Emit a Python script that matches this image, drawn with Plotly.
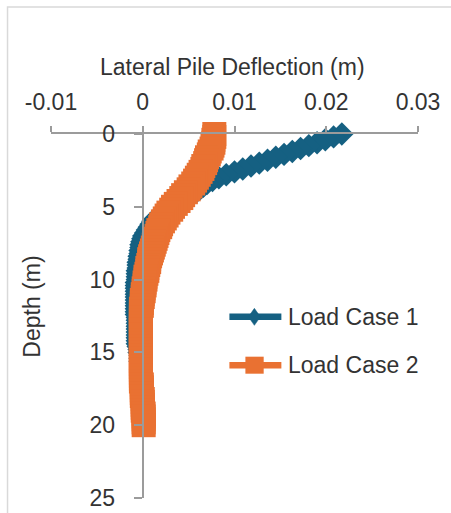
import plotly.graph_objects as go

# Depth below pile head (m)
depth = [
    0.0, 0.2, 0.4, 0.6, 0.8, 1.0, 1.2, 1.4, 1.6, 1.8,
    2.0, 2.2, 2.4, 2.6, 2.8, 3.0, 3.2, 3.4, 3.6, 3.8,
    4.0, 4.2, 4.4, 4.6, 4.8, 5.0, 5.2, 5.4, 5.6, 5.8,
    6.0, 6.2, 6.4, 6.6, 6.8, 7.0, 7.2, 7.4, 7.6, 7.8,
    8.0, 8.2, 8.4, 8.6, 8.8, 9.0, 9.2, 9.4, 9.6, 9.8,
    10.0, 10.2, 10.4, 10.6, 10.8, 11.0, 11.2, 11.4, 11.6, 11.8,
    12.0, 12.2, 12.4, 12.6, 12.8, 13.0, 13.2, 13.4, 13.6, 13.8,
    14.0, 14.2, 14.4, 14.6, 14.8, 15.0, 15.2, 15.4, 15.6, 15.8,
    16.0, 16.2, 16.4, 16.6, 16.8, 17.0, 17.2, 17.4, 17.6, 17.8,
    18.0, 18.2, 18.4, 18.6, 18.8, 19.0, 19.2, 19.4, 19.6, 19.8,
    20.0,
]

# Lateral deflection (m), load case 1
defl_lc1 = [
    0.0217, 0.0208, 0.0199, 0.0190, 0.0181, 0.0172, 0.0163, 0.0154, 0.0145, 0.0136,
    0.0127, 0.0118, 0.0109, 0.0100, 0.0091, 0.0083, 0.0076, 0.0070, 0.0066, 0.0062,
    0.0058, 0.0054, 0.0049, 0.0043, 0.0037, 0.0032, 0.0027, 0.0022, 0.0018, 0.0014,
    0.0011, 0.0009, 0.0007, 0.0005, 0.0003, 0.0001, 0.0000, -0.0001, -0.0002, -0.0002,
    -0.0003, -0.0003, -0.0004, -0.0004, -0.0005, -0.0005, -0.0005, -0.0006, -0.0006, -0.0006,
    -0.0006, -0.0007, -0.0007, -0.0007, -0.0007, -0.0007, -0.0007, -0.0007, -0.0007, -0.0007,
    -0.0007, -0.0007, -0.0007, -0.0006, -0.0006, -0.0006, -0.0006, -0.0006, -0.0006, -0.0006,
    -0.0006, -0.0006, -0.0006, -0.0005, -0.0004, -0.0004, -0.0003, -0.0003, -0.0003, -0.0002,
    -0.0002, -0.0002, -0.0002, -0.0002, -0.0002, -0.0002, -0.0001, -0.0001, -0.0001, -0.0001,
    -0.0001, 0.0000, 0.0000, 0.0000, 0.0000, 0.0000, 0.0001, 0.0001, 0.0001, 0.0001,
    0.0001,
]

# Lateral deflection (m), load case 2
defl_lc2 = [
    0.0078, 0.0078, 0.0077, 0.0077, 0.0076, 0.0075, 0.0073, 0.0072, 0.0070, 0.0069,
    0.0068, 0.0066, 0.0065, 0.0063, 0.0061, 0.0059, 0.0057, 0.0055, 0.0052, 0.0050,
    0.0047, 0.0044, 0.0042, 0.0039, 0.0036, 0.0033, 0.0031, 0.0028, 0.0026, 0.0024,
    0.0022, 0.0020, 0.0019, 0.0017, 0.0016, 0.0015, 0.0014, 0.0013, 0.0012, 0.0011,
    0.0010, 0.0009, 0.0008, 0.0007, 0.0007, 0.0006, 0.0005, 0.0005, 0.0004, 0.0003,
    0.0003, 0.0002, 0.0002, 0.0001, 0.0001, 0.0000, 0.0000, -0.0001, -0.0001, -0.0001,
    -0.0002, -0.0002, -0.0002, -0.0002, -0.0002, -0.0002, -0.0002, -0.0002, -0.0002, -0.0002,
    -0.0002, -0.0002, -0.0002, -0.0002, -0.0002, -0.0002, -0.0002, -0.0002, -0.0002, -0.0002,
    -0.0002, -0.0002, -0.0002, -0.0002, -0.0002, -0.0002, -0.0001, -0.0001, -0.0001, -0.0001,
    -0.0001, 0.0000, 0.0000, 0.0000, 0.0000, 0.0000, 0.0001, 0.0001, 0.0001, 0.0001,
    0.0001,
]

series_names = ["Load Case 1", "Load Case 2"]
x_ticks = [-0.01, 0, 0.01, 0.02, 0.03]
x_tick_text = ["-0.01", "0", "0.01", "0.02", "0.03"]
y_ticks = [0, 5, 10, 15, 20, 25]

BLUE = "#156082"
ORANGE = "#E97132"
AXIS = "#9b9b9b"
TEXT = "#333333"
FONT = "Liberation Sans, Arial, sans-serif"

W, H = 451, 513
L, R, T, B = 50.5, 33.3, 134, 15.3
PW, PH = W - L - R, H - T - B


def px(x):
    return (x - L) / PW


def py(y):
    return (H - B - y) / PH


fig = go.Figure()
fig.add_trace(go.Scatter(
    x=defl_lc1, y=depth, name=series_names[0], mode="lines+markers",
    line=dict(color=BLUE, width=5),
    marker=dict(symbol="diamond", size=18, color=BLUE, line=dict(width=0)),
    showlegend=False, cliponaxis=False,
))
fig.add_trace(go.Scatter(
    x=defl_lc2, y=depth, name=series_names[1], mode="lines+markers",
    line=dict(color=ORANGE, width=5),
    marker=dict(symbol="square", size=24, color=ORANGE, line=dict(width=0)),
    showlegend=False, cliponaxis=False,
))

shapes = [
    # chart frame
    dict(type="rect", xref="paper", yref="paper",
         x0=px(7), x1=px(470), y0=py(530), y1=py(7),
         line=dict(color="#d9d9d9", width=1.5), fillcolor="rgba(0,0,0,0)", layer="below"),
]
annotations = []

# legend
legend_rows = [(316.7, BLUE, "diamond"), (365.0, ORANGE, "square")]
for (yc, col, sym), name in zip(legend_rows, series_names):
    shapes.append(dict(type="line", xref="paper", yref="paper",
                       x0=px(229), x1=px(281), y0=py(yc), y1=py(yc),
                       line=dict(color=col, width=6.5)))
    if sym == "diamond":
        path = "M {a},{b} L {c},{d} L {e},{b} L {c},{f} Z".format(
            a=px(248), b=py(yc), c=px(254), d=py(yc - 8.5), e=px(260), f=py(yc + 8.5))
        shapes.append(dict(type="path", xref="paper", yref="paper", path=path,
                           fillcolor=col, line=dict(color=col, width=0.5)))
    else:
        shapes.append(dict(type="rect", xref="paper", yref="paper",
                           x0=px(245), x1=px(263.3), y0=py(yc + 8.5), y1=py(yc - 8.5),
                           fillcolor=col, line=dict(color=col, width=0)))
    annotations.append(dict(text=name, xref="paper", yref="paper",
                            x=px(286), y=py(yc), xanchor="left", yanchor="middle",
                            showarrow=False, font=dict(size=23, color=TEXT, family=FONT)))

# axis titles
annotations.append(dict(text="Lateral Pile Deflection (m)", xref="paper", yref="paper",
                        x=px(232.5), y=py(67), xanchor="center", yanchor="middle",
                        showarrow=False, font=dict(size=23, color=TEXT, family=FONT)))
annotations.append(dict(text="Depth (m)", xref="paper", yref="paper",
                        x=px(32), y=py(307), xanchor="center", yanchor="middle",
                        textangle=-90, showarrow=False,
                        font=dict(size=23, color=TEXT, family=FONT)))

fig.update_layout(
    width=W, height=H,
    margin=dict(l=L, r=R, t=T, b=B, pad=0, autoexpand=False),
    paper_bgcolor="white", plot_bgcolor="white",
    font=dict(family=FONT, size=23, color=TEXT),
    shapes=shapes, annotations=annotations,
    xaxis=dict(range=[-0.01, 0.03], side="top", anchor="y", automargin=False,
               tickvals=x_ticks, ticktext=x_tick_text,
               showline=True, linecolor=AXIS, linewidth=2,
               ticks="outside", ticklen=6, tickwidth=2, tickcolor=AXIS,
               ticklabelstandoff=7,
               showgrid=False, zeroline=False,
               tickfont=dict(size=23, color=TEXT, family=FONT)),
    yaxis=dict(range=[25, 0], anchor="free", position=0.25, automargin=False,
               tickvals=y_ticks,
               showline=True, linecolor=AXIS, linewidth=2,
               ticks="outside", ticklen=8, tickwidth=2, tickcolor=AXIS,
               ticklabelstandoff=14,
               showgrid=False, zeroline=False,
               tickfont=dict(size=23, color=TEXT, family=FONT)),
)

fig.write_html("out.html")
